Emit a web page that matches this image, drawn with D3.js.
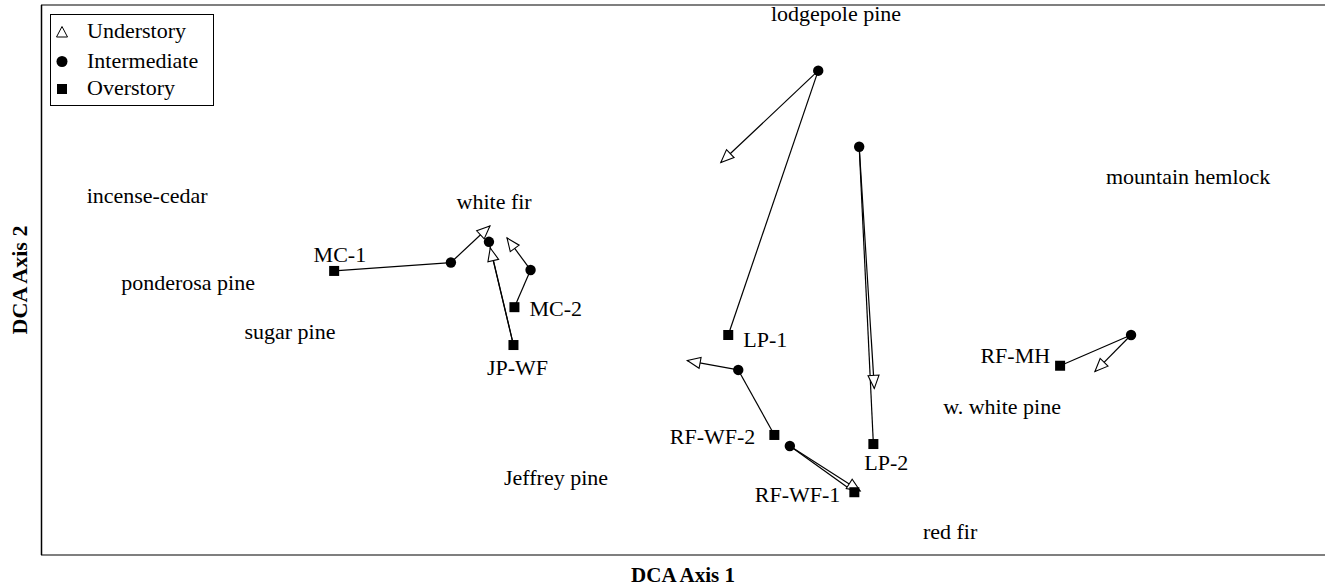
<!DOCTYPE html>
<html>
<head>
<meta charset="utf-8">
<script src="https://cdn.jsdelivr.net/npm/d3@7"></script>
<style>
  body { margin: 0; background: #fff; }
  text { font-family: "Liberation Serif", "Times New Roman", serif; }
</style>
</head>
<body>
<svg id="chart" width="1325" height="588"></svg>
<script>
// ---- Data (DCA scores, arbitrary units) ----
const groups      = ["MC-1", "MC-2", "JP-WF", "LP-1", "RF-WF-2", "RF-WF-1", "LP-2", "RF-MH"];
const overX       = [90.9, 146.8, 146.5, 213.1, 227.4, 252.2, 258.1, 316.0];
const overY       = [87.8,  76.6,  64.9,  68.0,  37.1,  19.4,  34.3,  58.5];
const interX      = [127.1, 151.8, 138.9, 241.0, 216.2, 232.2, 253.7, 338.0];
const interY      = [ 90.4,  88.1,  96.8, 149.7,  57.2,  33.7, 126.2,  68.0];
const underX      = [139.2, 144.5, 139.3, 210.8, 200.4, 254.0, 258.4, 326.8];
const underY      = [101.7,  98.0,  94.9, 121.3,  60.1,  19.8,  51.5,  56.7];
const arrowFrom   = ["inter", "inter", "over", "inter", "inter", "inter", "inter", "inter"];

const species     = ["lodgepole pine", "incense-cedar", "white fir", "ponderosa pine", "sugar pine",
                     "mountain hemlock", "w. white pine", "Jeffrey pine", "red fir"];
const speciesX    = [246.5, 32.9, 140.5, 45.6, 77.2, 355.7, 298.0, 159.7, 281.9];
const speciesY    = [167.2, 111.0, 109.1, 84.1, 68.9, 116.8, 45.7, 23.8, 7.1];

const legendLabels = ["Understory", "Intermediate", "Overstory"];
const axisTitles   = ["DCA Axis 1", "DCA Axis 2"];

// ---- Layout (presentation only) ----
const frame = { left: 41, right: 1331, top: 5, bottom: 555 };
const labelPlacement = {
  "MC-1":    { anchor: "end",    dx: 32,  dy: -9 },
  "MC-2":    { anchor: "start",  dx: 15,  dy: 9 },
  "JP-WF":   { anchor: "middle", dx: 4,   dy: 30 },
  "LP-1":    { anchor: "start",  dx: 15,  dy: 12 },
  "RF-WF-2": { anchor: "end",    dx: -19, dy: 9 },
  "RF-WF-1": { anchor: "end",    dx: -14, dy: 10 },
  "LP-2":    { anchor: "middle", dx: 13,  dy: 26 },
  "RF-MH":   { anchor: "end",    dx: -10, dy: -3 }
};

const svg = d3.select("#chart");
const x = d3.scaleLinear().domain([0, 400]).range([frame.left, frame.right]);
const y = d3.scaleLinear().domain([0, 170]).range([frame.bottom, frame.top]);

// Frame
svg.append("line").attr("x1", frame.left).attr("x2", 1330).attr("y1", frame.top).attr("y2", frame.top)
  .attr("stroke", "#7f7f7f").attr("stroke-width", 2);
svg.append("line").attr("x1", frame.left).attr("x2", 1330).attr("y1", frame.bottom).attr("y2", frame.bottom)
  .attr("stroke", "#7f7f7f").attr("stroke-width", 2);
svg.append("line").attr("x1", frame.left + 0.5).attr("x2", frame.left + 0.5).attr("y1", frame.top).attr("y2", frame.bottom)
  .attr("stroke", "#000").attr("stroke-width", 1.5);

const FS = 22;

// Species labels
svg.append("g").selectAll("text").data(species).join("text")
  .attr("x", (d, i) => x(speciesX[i]))
  .attr("y", (d, i) => y(speciesY[i]))
  .attr("dy", "0.33em")
  .attr("text-anchor", "middle")
  .attr("font-size", FS)
  .attr("fill", "#000")
  .text(d => d);

const data = groups.map((g, i) => ({
  name: g,
  over: [x(overX[i]), y(overY[i])],
  inter: [x(interX[i]), y(interY[i])],
  under: [x(underX[i]), y(underY[i])],
  from: arrowFrom[i]
}));

const gLines = svg.append("g");
// Overstory -> Intermediate
gLines.selectAll("line.oi").data(data).join("line")
  .attr("class", "oi")
  .attr("x1", d => d.over[0]).attr("y1", d => d.over[1])
  .attr("x2", d => d.inter[0]).attr("y2", d => d.inter[1])
  .attr("stroke", "#000").attr("stroke-width", 1.2);
// Arrow line to Understory
gLines.selectAll("line.iu").data(data).join("line")
  .attr("class", "iu")
  .attr("x1", d => d[d.from][0]).attr("y1", d => d[d.from][1])
  .attr("x2", d => d.under[0]).attr("y2", d => d.under[1])
  .attr("stroke", "#000").attr("stroke-width", 1.2);

// Arrowheads (open triangles)
const AL = 13, AW = 5.5;
svg.append("g").selectAll("path").data(data).join("path")
  .attr("d", d => {
    const s = d[d.from], t = d.under;
    const ang = Math.atan2(t[1] - s[1], t[0] - s[0]);
    const c = Math.cos(ang), sn = Math.sin(ang);
    const bx = t[0] - AL * c, by = t[1] - AL * sn;
    const p1 = [bx - AW * sn, by + AW * c], p2 = [bx + AW * sn, by - AW * c];
    return `M${t[0]},${t[1]}L${p1[0]},${p1[1]}L${p2[0]},${p2[1]}Z`;
  })
  .attr("fill", "#fff").attr("stroke", "#000").attr("stroke-width", 1.1);

// Intermediate circles
svg.append("g").selectAll("circle").data(data).join("circle")
  .attr("cx", d => d.inter[0]).attr("cy", d => d.inter[1]).attr("r", 5.2).attr("fill", "#000");

// Overstory squares
const SQ = 10;
svg.append("g").selectAll("rect").data(data).join("rect")
  .attr("x", d => d.over[0] - SQ / 2).attr("y", d => d.over[1] - SQ / 2)
  .attr("width", SQ).attr("height", SQ).attr("fill", "#000");

// Group labels
svg.append("g").selectAll("text").data(data).join("text")
  .attr("x", d => d.over[0] + labelPlacement[d.name].dx)
  .attr("y", d => d.over[1] + labelPlacement[d.name].dy)
  .attr("text-anchor", d => labelPlacement[d.name].anchor)
  .attr("font-size", FS)
  .text(d => d.name);

// Legend
const lg = svg.append("g");
lg.append("rect").attr("x", 50.5).attr("y", 14.5).attr("width", 163).attr("height", 91)
  .attr("fill", "#fff").attr("stroke", "#000").attr("stroke-width", 1);
const rowY = [32, 61.5, 89];
lg.append("path")
  .attr("d", `M62,${rowY[0] - 5.5}L67.5,${rowY[0] + 5}L56.5,${rowY[0] + 5}Z`)
  .attr("fill", "#fff").attr("stroke", "#000").attr("stroke-width", 1);
lg.append("circle").attr("cx", 62).attr("cy", rowY[1]).attr("r", 5.5).attr("fill", "#000");
lg.append("rect").attr("x", 57).attr("y", rowY[2] - 5).attr("width", 10).attr("height", 10).attr("fill", "#000");
lg.selectAll("text").data(legendLabels).join("text")
  .attr("x", 87).attr("y", (d, i) => rowY[i] + 6)
  .attr("font-size", FS).text(d => d);

// Axis titles
svg.append("text").attr("x", (frame.left + 1325) / 2).attr("y", 582)
  .attr("text-anchor", "middle").attr("font-size", 21).attr("font-weight", "bold")
  .text(axisTitles[0]);
svg.append("text").attr("transform", `translate(27,${(frame.top + frame.bottom) / 2}) rotate(-90)`)
  .attr("text-anchor", "middle").attr("font-size", 22).attr("font-weight", "bold")
  .text(axisTitles[1]);
</script>
</body>
</html>
